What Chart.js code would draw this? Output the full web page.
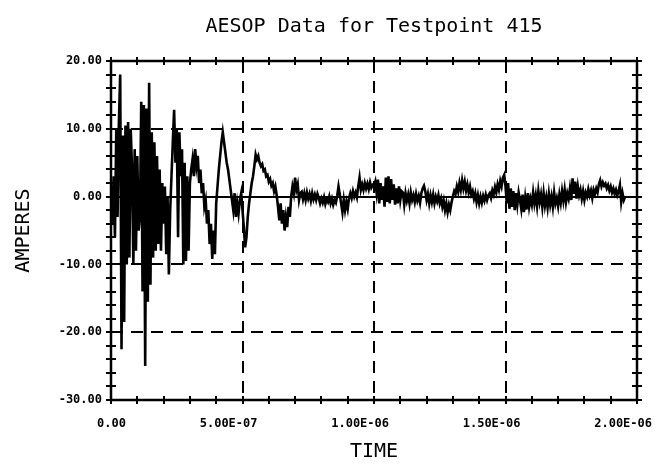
<!DOCTYPE html>
<html><head><meta charset="utf-8">
<script src="https://cdn.jsdelivr.net/npm/chart.js@4.4.1/dist/chart.umd.min.js"></script>
<style>html,body{margin:0;padding:0;background:#fff;} canvas{display:block;}</style>
</head><body>
<canvas id="c" width="655" height="467"></canvas>
<script>
const chartTitle = 'AESOP Data for Testpoint 415';
const xTitle = 'TIME';
const yTitle = 'AMPERES';
const xTickValues = [0, 5e-7, 1e-6, 1.5e-6, 2e-6];
const xTickLabels = ['0.00', '5.00E-07', '1.00E-06', '1.50E-06', '2.00E-06'];
const yTickValues = [-30, -20, -10, 0, 10, 20];
const yTickLabels = ['-30.00', '-20.00', '-10.00', '0.00', '10.00', '20.00'];
const xMinorStep = 1e-7;
const yMinorStep = 2;
const sampleStep = 5e-9; // seconds between samples

// current (A), one value per sample
const amperes = [
  0, -4, 3, -6, 10, -3, 11, 18, -22.5, 9,
  -18.5, 10.5, -10, 11, -9, 10, 4, -10, 7, -8,
  6, -5, -3, 14, -14, 13.5, -25, 13, -15.5, 16.8,
  -13, 9.5, -9, 8, -8, 6, -7, 4, -8, 2,
  -4, 1.5, -8.5, 0, -11.5, -2, 3, 8, 12.8, 5,
  10, -6, 9.5, 3, 7, -10, 5, -9.5, 3, -8,
  2, 4, 5.5, 3, 7, 4.5, 6, 2, 4, 0.5,
  2, -1.5, -0.5, -4, -2, -7, -4, -9.2, -5, -8.5,
  -1, 1.5, 4, 6, 8, 9.5, 8, 6.5, 5, 4,
  2.5, 1, -0.5, -2, 0.5, -3, -1, -2.5, -0.5, 0.5,
  -2, -4.5, -7.5, -6, -3, -1, 0.5, 2, 3, 4.5,
  6.2, 5.5, 6, 5, 4.5, 4.8, 3.8, 4, 3, 3.2,
  2.2, 2.6, 1.6, 2, 0.8, 1.5, 0.2, -1.5, -3.5, -1,
  -4, -2, -5, -3, -4.5, -1.5, -3, 0, 1.5, 0.5,
  2.8, 1, 1.8, -0.5, 0.5,
  0.7, -0.4, 0.5, -0.5, 0.6, -0.3, 0.4, -0.6, 0.5, -0.4, 0.3, -0.5, 0.4,
  -0.2, -1, -0.3, -0.9, -0.1, -1.1, -0.4, -0.8, 0, -1, -0.3, -1.2, -0.5, -0.9, 0.1,
  1.5, 0.3,
  -1, -2.3, -0.5, -2, -0.8, -1.8, -0.2,
  0.5, -0.2, 0.8, 0, 0.6, -0.1,
  1.5, 2.8, 1,
  1.8, 1, 2, 1.2, 1.9, 1.1, 2.1, 1.3, 1.7, 1.5, 2.2,
  0.5, 2.5, -1, 2, -0.5, 1.5, -1.5, 2.8, -0.8, 3, -1, 2.6, -0.5, 1.8, -1.2, 1.2, -1, 1.5, -0.5, 0.8,
  0.6, -1.2, 0.5, -0.6, 0.3, -1, 0.6, -0.5, 0.2, -0.8, 0.4, -0.6, 0.1, -0.9, 0.5,
  1.2, 1.6, 0.8,
  -0.5, 0.4, -1, 0.2, -0.8, 0.3, -1, 0, -0.7, 0.2,
  -1, -0.3, -1.5, -0.6, -2, -1, -2.3, -1.2, -2, -0.8,
  0, 0.8, 0.4, 1.5, 0.7, 2, 1, 2.4, 1.2, 2.2, 0.9, 1.8, 0.6, 1.5, 0.3,
  0.8, -0.3, 0.5, -0.8, 0.2, -1, 0, -0.9, 0.1, -0.6, 0.3, -0.5, 0.2,
  0.5, -0.2, 0.9, 0.3, 1.4, 0.6, 1.8, 1, 2.3, 1.5, 2.8, 3.2,
  1.5, -1, 2, -1.8, 1.2, -1.5, 0.8, -2, 0.5, -1.2, 0.6,
  -0.5, -1.8, 0.3, -2.3, -0.2, -1.9, 0.5, -1.5, -0.3, -1.2, 0.6, -1, 0.2, -1.4, 0.8, -0.8,
  0.3, -1.5, 0.5, -1.3, -0.1, -1.6, 0.4, -1.2, 0, -1.5, 0.6, -1, -0.2, -1.4, 0.3, -0.9,
  0.8, -0.6, 1, -0.8, 0.5, -0.3, 1.2, -0.5,
  2.7, 0.4, 2.2, -0.3, 1.5,
  0.2, 1, -0.3, 0.8, -0.5, 0.6, 0, 1.1, 0.2, 0.9, -0.2, 1, 0.4, 1.2, 0.6,
  1.8, 2.4, 1.5, 2.1, 1.6,
  1.9, 1.2, 1.7, 0.9, 1.5, 0.6, 1.2, 0.4, 1, 0.2, 0.8,
  1.7, -0.8, 0.5, -0.5, 0
];

const points = amperes.map((a, i) => ({ x: i * sampleStep, y: a }));

const framePlugin = {
  id: 'framePlugin',
  beforeDatasetsDraw(chart) {
    const { ctx, chartArea: a, scales: { x, y } } = chart;
    ctx.save();
    ctx.strokeStyle = '#000';
    ctx.lineWidth = 2;
    ctx.setLineDash([12, 8]);
    xTickValues.slice(1, -1).forEach(v => {
      const px = Math.round(x.getPixelForValue(v));
      ctx.beginPath(); ctx.moveTo(px, a.top); ctx.lineTo(px, a.bottom); ctx.stroke();
    });
    yTickValues.slice(1, -1).forEach(v => {
      if (v === 0) return;
      const py = Math.round(y.getPixelForValue(v));
      ctx.beginPath(); ctx.moveTo(a.left, py); ctx.lineTo(a.right, py); ctx.stroke();
    });
    ctx.setLineDash([]);
    const pz = Math.round(y.getPixelForValue(0));
    ctx.beginPath(); ctx.moveTo(a.left, pz); ctx.lineTo(a.right, pz); ctx.stroke();
    ctx.restore();
  },
  afterDatasetsDraw(chart) {
    const { ctx, chartArea: a, scales: { x, y } } = chart;
    ctx.save();
    ctx.strokeStyle = '#000';
    ctx.lineWidth = 2.5;
    ctx.strokeRect(a.left, a.top, a.right - a.left, a.bottom - a.top);
    ctx.lineWidth = 2;
    const nx = Math.round((x.max - x.min) / xMinorStep);
    for (let k = 0; k <= nx; k++) {
      const px = Math.round(x.getPixelForValue(x.min + k * xMinorStep));
      ctx.beginPath();
      ctx.moveTo(px, a.bottom - 4); ctx.lineTo(px, a.bottom + 4);
      ctx.moveTo(px, a.top - 4); ctx.lineTo(px, a.top + 4);
      ctx.stroke();
    }
    const ny = Math.round((y.max - y.min) / yMinorStep);
    for (let k = 0; k <= ny; k++) {
      const py = Math.round(y.getPixelForValue(y.min + k * yMinorStep));
      ctx.beginPath();
      ctx.moveTo(a.left - 5, py); ctx.lineTo(a.left + 5, py);
      ctx.moveTo(a.right - 5, py); ctx.lineTo(a.right + 5, py);
      ctx.stroke();
    }
    ctx.restore();
  }
};

Chart.defaults.color = '#000';
Chart.defaults.font.family = '"DejaVu Sans Mono", monospace';

new Chart(document.getElementById('c'), {
  type: 'line',
  data: {
    datasets: [{
      data: points,
      borderColor: '#000',
      borderWidth: 2.6,
      pointRadius: 0,
      tension: 0,
      fill: false
    }]
  },
  options: {
    responsive: false,
    animation: false,
    devicePixelRatio: 1,
    layout: { padding: { left: 0, right: 18, top: 0, bottom: 0 } },
    plugins: {
      legend: { display: false },
      tooltip: { enabled: false },
      title: {
        display: true,
        text: chartTitle,
        fullSize: false,
        font: { size: 20, weight: 'normal', family: '"DejaVu Sans Mono", monospace' },
        padding: { top: 15, bottom: 22 },
        color: '#000'
      }
    },
    scales: {
      x: {
        type: 'linear',
        min: 0,
        max: 2e-6,
        grid: { display: false, drawTicks: false },
        border: { display: false },
        ticks: {
          stepSize: 5e-7,
          autoSkip: false,
          maxRotation: 0,
          align: 'end',
          labelOffset: 15,
          padding: 17,
          font: { size: 12, weight: 'bold' },
          callback: (v, i) => xTickLabels[i]
        },
        title: {
          display: true,
          text: xTitle,
          font: { size: 20, weight: 'normal' },
          padding: { top: 0, bottom: 3 }
        },
        afterFit: s => { s.height = 67; }
      },
      y: {
        type: 'linear',
        min: -30,
        max: 20,
        grid: { display: false, drawTicks: false },
        border: { display: false },
        ticks: {
          stepSize: 10,
          padding: 9,
          font: { size: 12, weight: 'bold' },
          callback: (v, i) => yTickLabels[i]
        },
        title: {
          display: true,
          text: yTitle,
          font: { size: 20, weight: 'normal' },
          padding: { top: 12, bottom: 0 }
        },
        afterFit: s => { s.width = 111; }
      }
    }
  },
  plugins: [framePlugin]
});
</script>
</body></html>
